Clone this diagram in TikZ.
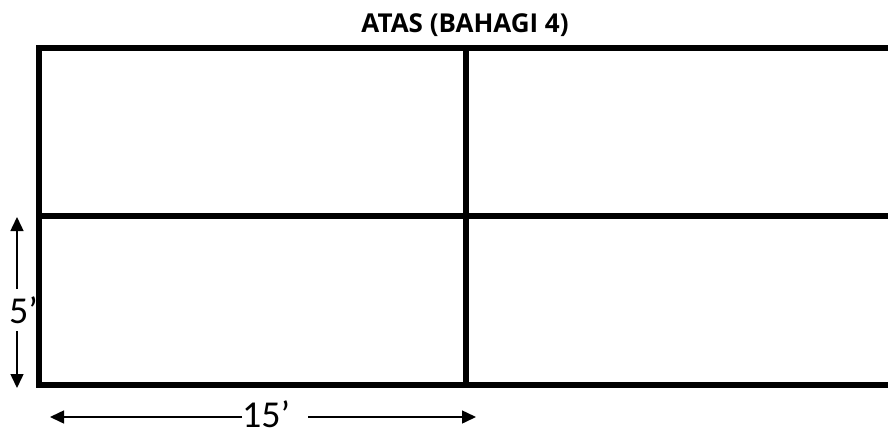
\documentclass[tikz,border=0pt]{standalone}
\usepackage{fontspec}
\setmainfont{Carlito}
\newfontfamily\titlefont{Open Sans}
\usetikzlibrary{arrows.meta,positioning}

\begin{document}
\begin{tikzpicture}[x=1pt,y=-1pt,
  wall/.style={line width=5.5pt,line join=miter},
  dim/.style={line width=1.5pt,-{Triangle[length=14pt,width=13pt]}},
  big/.style={font=\fontsize{38}{42}\selectfont,inner sep=0pt}]
  \useasboundingbox (0,0) rectangle (888,431);
  % title
  \node[font=\titlefont\bfseries\fontsize{26}{30}\selectfont,anchor=base] (title) at (465,32) {ATAS (BAHAGI 4)};
  % frame
  \draw[wall] (895,48) -- (39,48) -- (39,385) -- (895,385);
  \draw[wall] (39,216) -- (895,216);
  \draw[wall] (466,48) -- (466,385);
  % dimensions
  \node[big,anchor=base west] (five) at (9,323) {5’};
  \coordinate (fivetop) at (17,217);
  \coordinate (fivebot) at (17,388);
  \draw[dim] ([yshift=7pt]five.north -| fivetop) -- (fivetop);
  \draw[dim] ([yshift=-8pt]five.base -| fivebot) -- (fivebot);
  \node[big,anchor=base west] (fifteen) at (242,427) {15’};
  \coordinate (lenleft) at (50,417);
  \coordinate (lenright) at (476,417);
  \draw[dim] (fifteen.west |- lenleft) -- (lenleft);
  \draw[dim] ([xshift=18pt]fifteen.east |- lenright) -- (lenright);
\end{tikzpicture}
\end{document}
